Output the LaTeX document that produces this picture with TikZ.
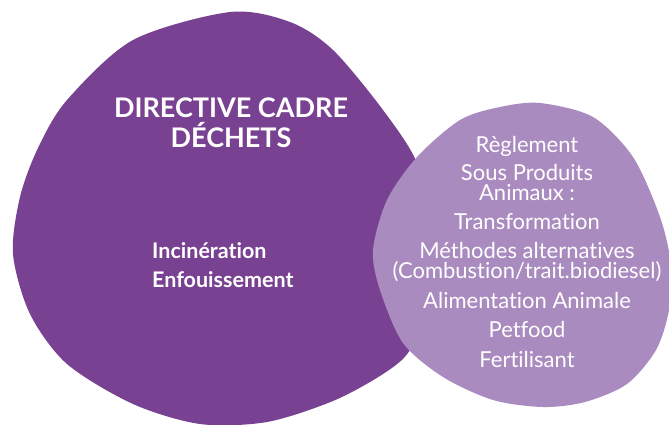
\documentclass[tikz,border=0pt]{standalone}
\usepackage{fontspec}
\setmainfont{Lato}[Ligatures={NoCommon,NoRequired,NoContextual}]
\definecolor{dechet}{HTML}{784191}
\definecolor{sousprod}{HTML}{A98BBF}
\begin{document}
\begin{tikzpicture}[x=1pt,y=-1pt,line join=round,text=white,font=\fontsize{22}{26}\selectfont]
				\useasboundingbox (0,0) rectangle (669,424);
				% grande forme : directive cadre
				\fill[dechet] plot[smooth cycle] coordinates {
					(230,12) (290,22) (333,50) (383,110) (417,163) (432,230) (428,300)
					(410,350) (383,374) (333,401) (267,422) (200,424) (133,404)
					(67,364) (30,314) (13,254) (20,197) (38,148) (67,100) (133,40)};
				% petite forme : sous produits animaux
				\fill[sousprod] plot[smooth cycle] coordinates {
					(540,103) (593,117) (633,157) (660,217) (671,265) (669,310)
					(656,350) (627,384) (585,402) (543,407) (493,400) (443,377)
					(403,343) (380,290) (373,250) (387,200) (417,157) (460,120) (500,107)};
				\node[anchor=base,font=\bfseries\fontsize{27}{30}\selectfont] (titre) at (231,117) {DIRECTIVE CADRE};
				\node[anchor=base,font=\bfseries\fontsize{27}{30}\selectfont] (dechets) at (231,147) {DÉCHETS};
				\node[anchor=base west,inner xsep=0pt,font=\bfseries\fontsize{21.5}{25}\selectfont] (incin) at (152,258) {Incinération};
				\node[anchor=base west,inner xsep=0pt,font=\bfseries\fontsize{21.5}{25}\selectfont] (enfou) at (152,287) {Enfouissement};
				\foreach \t/\y [count=\i] in {Règlement/152,Sous Produits/180,Animaux :/200,Transformation/229,
					Méthodes alternatives/258,{(Combustion/trait.biodiesel)}/278,Alimentation Animale/308,
					Petfood/337,Fertilisant/367}
					\node[anchor=base] (sp\i) at (527,\y) {\t};
\end{tikzpicture}
\end{document}
